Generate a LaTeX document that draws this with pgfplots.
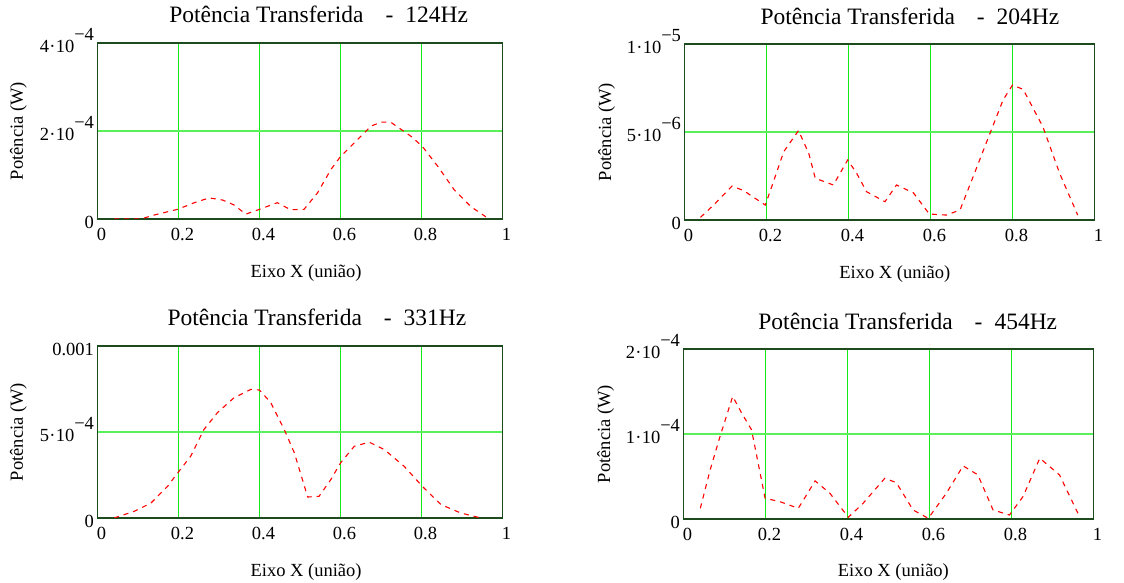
\documentclass[border=0pt]{standalone}
\usepackage{pgfplots}
\pgfplotsset{compat=1.18}
\usepackage{fontspec}
\setmainfont{Liberation Serif}
\definecolor{framec}{RGB}{30,75,30}
\definecolor{gridv}{RGB}{20,235,20}
\definecolor{gridh}{RGB}{90,240,90}
\newcommand{\sci}[2]{#1\kern0.3bp\textperiodcentered\kern0.3bp10\smash{\raisebox{0.6em}{\textminus#2}}}
\pgfplotsset{
  panel/.style={
    scale only axis,
    anchor=south west,
    xmin=0,xmax=1,ymin=0,
    xtick={0,0.2,0.4,0.6,0.8,1},
    xticklabels={0,0.2,0.4,0.6,0.8,1},
    scaled y ticks=false,
    major tick length=0pt,
    grid=major,
    x grid style={gridv, line width=1bp},
    y grid style={gridh, line width=2bp},
    axis line style={framec, line width=1.8bp},
    tick label style={font=\fontsize{18.5bp}{22bp}\selectfont},
    label style={font=\fontsize{18.5bp}{22bp}\selectfont},
    title style={font=\fontsize{23.5bp}{28bp}\selectfont, anchor=base},
    xticklabel style={anchor=base, yshift=-21.7bp, xshift=4bp},
    yticklabel style={anchor=east, yshift=-3bp},
    xlabel={Eixo X (união)},
    ylabel={Potência (W)},
    xlabel style={anchor=base},
    ylabel style={anchor=center},
  },
  curve/.style={red, line width=1.1bp, dash pattern=on 5bp off 5bp},
}
\begin{document}
\begin{tikzpicture}
\useasboundingbox (0,0) rectangle (1124bp,583bp);
% Panel 1: 124 Hz
\begin{axis}[panel, at={(97.5bp,364bp)}, width=405bp, height=176bp,
  ymax=4e-4, ytick={0,2e-4,4e-4}, yticklabels={0,\sci{2}{4},\sci{4}{4}},
  title={Potência Transferida\hspace{22bp}-\hspace{12bp}124Hz},
  title style={at={(axis description cs:0.546,1.084)}},
  xlabel style={at={(axis description cs:0.515,-0.331)}},
  ylabel style={at={(axis description cs:-0.195,0.5)}}]
\addplot[curve] coordinates {
(0.041,0) (0.107,0) (0.14,0.09e-4) (0.198,0.22e-4) (0.239,0.37e-4) (0.276,0.48e-4)
(0.309,0.43e-4) (0.337,0.32e-4) (0.366,0.11e-4) (0.4,0.22e-4) (0.444,0.37e-4)
(0.477,0.21e-4) (0.51,0.22e-4) (0.543,0.59e-4) (0.576,1.12e-4) (0.6,1.42e-4)
(0.634,1.73e-4) (0.675,2.11e-4) (0.7,2.20e-4) (0.724,2.20e-4) (0.774,1.88e-4)
(0.802,1.65e-4) (0.84,1.20e-4) (0.881,0.66e-4) (0.922,0.28e-4) (0.959,0.05e-4)
};
\end{axis}
% Panel 2: 204 Hz
\begin{axis}[panel, at={(684.5bp,363bp)}, width=410bp, height=176bp,
  ymax=1e-5, ytick={0,5e-6,1e-5}, yticklabels={0,\sci{5}{6},\sci{1}{5}},
  title={Potência Transferida\hspace{22bp}-\hspace{12bp}204Hz},
  title style={at={(axis description cs:0.55,1.076)}},
  xlabel style={at={(axis description cs:0.513,-0.335)}},
  ylabel style={at={(axis description cs:-0.19,0.5)}}]
\addplot[curve] coordinates {
(0.039,0.15e-6) (0.071,0.85e-6) (0.116,1.93e-6) (0.144,1.67e-6) (0.197,0.85e-6)
(0.217,2.18e-6) (0.242,3.88e-6) (0.278,5.08e-6) (0.303,3.79e-6) (0.319,2.37e-6)
(0.363,1.99e-6) (0.398,3.41e-6) (0.42,2.65e-6) (0.444,1.61e-6) (0.489,1.04e-6)
(0.517,1.99e-6) (0.558,1.55e-6) (0.597,0.34e-6) (0.639,0.28e-6) (0.672,0.57e-6)
(0.704,2.46e-6) (0.745,4.92e-6) (0.777,6.82e-6) (0.8,7.67e-6) (0.826,7.42e-6)
(0.874,5.30e-6) (0.915,2.65e-6) (0.959,0.28e-6)
};
\end{axis}
% Panel 3: 331 Hz
\begin{axis}[panel, at={(97.5bp,65bp)}, width=405bp, height=172bp,
  ymax=1e-3, ytick={0,5e-4,1e-3}, yticklabels={0,\sci{5}{4},0.001},
  title={Potência Transferida\hspace{22bp}-\hspace{12bp}331Hz},
  title style={at={(axis description cs:0.542,1.082)}},
  xlabel style={at={(axis description cs:0.515,-0.339)}},
  ylabel style={at={(axis description cs:-0.195,0.5)}}]
\addplot[curve] coordinates {
(0.041,0) (0.091,0.039e-3) (0.132,0.087e-3) (0.173,0.184e-3) (0.198,0.262e-3)
(0.23,0.359e-3) (0.263,0.515e-3) (0.296,0.612e-3) (0.337,0.699e-3) (0.379,0.748e-3)
(0.4,0.744e-3) (0.428,0.670e-3) (0.461,0.515e-3) (0.486,0.379e-3) (0.519,0.122e-3)
(0.547,0.126e-3) (0.576,0.223e-3) (0.6,0.320e-3) (0.634,0.417e-3) (0.671,0.441e-3)
(0.708,0.398e-3) (0.757,0.301e-3) (0.802,0.184e-3) (0.848,0.078e-3) (0.897,0.029e-3)
(0.947,0)
};
\end{axis}
% Panel 4: 454 Hz
\begin{axis}[panel, at={(683.5bp,64bp)}, width=410bp, height=170bp,
  ymax=2e-4, ytick={0,1e-4,2e-4}, yticklabels={0,\sci{1}{4},\sci{2}{4}},
  title={Potência Transferida\hspace{22bp}-\hspace{12bp}454Hz},
  title style={at={(axis description cs:0.547,1.082)}},
  xlabel style={at={(axis description cs:0.512,-0.341)}},
  ylabel style={at={(axis description cs:-0.19,0.5)}}]
\addplot[curve] coordinates {
(0.041,0.126e-4) (0.065,0.578e-4) (0.089,0.970e-4) (0.12,1.442e-4) (0.142,1.245e-4)
(0.166,1.049e-4) (0.199,0.244e-4) (0.235,0.204e-4) (0.28,0.126e-4) (0.321,0.448e-4)
(0.357,0.303e-4) (0.402,0.02e-4) (0.438,0.185e-4) (0.491,0.479e-4) (0.519,0.428e-4)
(0.56,0.106e-4) (0.597,0.008e-4) (0.641,0.303e-4) (0.682,0.625e-4) (0.718,0.519e-4)
(0.755,0.106e-4) (0.795,0.047e-4) (0.828,0.263e-4) (0.869,0.715e-4) (0.917,0.519e-4)
(0.962,0.067e-4)
};
\end{axis}
\end{tikzpicture}
\end{document}
